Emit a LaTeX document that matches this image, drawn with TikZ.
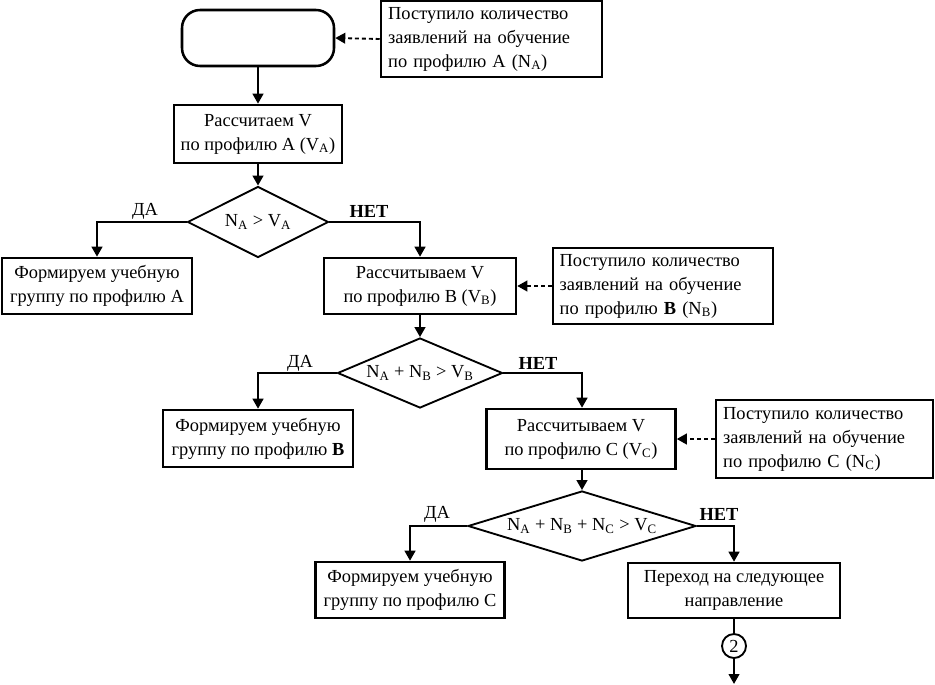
\documentclass[tikz,border=0pt]{standalone}
\usepackage{fontspec}
\setmainfont{Liberation Serif}
\usetikzlibrary{shapes.geometric,arrows.meta}
\begin{document}
\begin{tikzpicture}[x=0.75pt,y=-0.75pt,
  font=\fontsize{13.8}{18}\selectfont,
  box/.style={draw,line width=1.9pt,inner sep=0pt,align=center},
  note/.style={draw,line width=1.9pt,inner xsep=5pt,inner ysep=0pt,align=left},
  dec/.style={draw,diamond,line width=1.4pt,inner sep=0pt},
  lbl/.style={inner sep=0pt},
  arr/.style={line width=1.6pt,-{Triangle[length=7.5pt,width=8pt]}},
  line/.style={line width=1.6pt},
  dot/.style={line width=1.4pt,dash pattern=on 3pt off 2.2pt,-{Triangle[length=7.5pt,width=8pt]}}]
\useasboundingbox (0,0) rectangle (935,685);
% nodes
\node[box,rounded corners=13.5pt,minimum width=114pt,minimum height=42pt] (term) at (258,38) {};
\node[note,minimum width=165.75pt,minimum height=57pt,text width=155pt] (noteA) at (491.5,39) {Поступило количество\\заявлений на обучение\\по профилю A (N\textsubscript{A})};
\node[box,minimum width=126pt,minimum height=43.5pt] (b1) at (258,134) {Рассчитаем V\\по профилю A (V\textsubscript{A})};
\node[dec,aspect=2,minimum width=105.75pt,minimum height=53.25pt] (d1) at (258,222) {N\textsubscript{A} > V\textsubscript{A}};
\node[box,minimum width=142.5pt,minimum height=42pt] (fA) at (97,286) {Формируем учебную\\группу по профилю A};
\node[box,minimum width=144pt,minimum height=42pt] (bB) at (420,286) {Рассчитываем V\\по профилю B (V\textsubscript{B})};
\node[note,minimum width=165pt,minimum height=57pt,text width=155pt] (noteB) at (663,286) {Поступило количество\\заявлений на обучение\\по профилю \textbf{B} (N\textsubscript{B})};
\node[dec,aspect=2.36,minimum width=123.75pt,minimum height=52.5pt] (d2) at (420,373) {N\textsubscript{A} + N\textsubscript{B} > V\textsubscript{B}};
\node[box,minimum width=142.5pt,minimum height=42.75pt] (fB) at (258,438.5) {Формируем учебную\\группу по профилю \textbf{B}};
\node[box,minimum width=141.75pt,minimum height=45pt] (bC) at (581,439) {Рассчитываем V\\по профилю C (V\textsubscript{C})};
\node[note,minimum width=162.75pt,minimum height=58.5pt,text width=152pt] (noteC) at (824.5,439) {Поступило количество\\заявлений на обучение\\по профилю C (N\textsubscript{C})};
\node[dec,aspect=3.26,minimum width=171pt,minimum height=52.5pt] (d3) at (582,526) {N\textsubscript{A} + N\textsubscript{B} + N\textsubscript{C} > V\textsubscript{C}};
\node[box,minimum width=141.75pt,minimum height=42pt] (fC) at (410,590) {Формируем учебную\\группу по профилю C};
\node[box,minimum width=159pt,minimum height=41.25pt] (bN) at (734,590.5) {Переход на следующее\\направление};
\node[draw,circle,line width=1.4pt,minimum size=18pt,inner sep=0pt] (c2) at (734,646) {2};
\coordinate (end) at (734,684);
% labels
\node[lbl] (da1) at (145,211) {ДА};
\node[lbl] (net1) at (369,211) {\textbf{НЕТ}};
\node[lbl] (da2) at (300,363) {ДА};
\node[lbl] (net2) at (538,363) {\textbf{НЕТ}};
\node[lbl] (da3) at (437,514) {ДА};
\node[lbl] (net3) at (719,514) {\textbf{НЕТ}};
% connectors
\draw[arr] (term) -- (b1);
\draw[arr] (b1) -- (d1);
\draw[arr] (d1.west) -| (fA.north);
\draw[arr] (d1.east) -| (bB.north);
\draw[arr] (bB) -- (d2);
\draw[arr] (d2.west) -| (fB.north);
\draw[arr] (d2.east) -| (d3.north |- bC.north);
\draw[arr] (d3.north |- bC.south) -- (d3.north);
\draw[arr] (d3.west) -| (fC.north);
\draw[arr] (d3.east) -| (bN.north);
\draw[line] (bN) -- (c2);
\draw[arr] (c2) -- (end);
\draw[dot] (noteA.west) -- (term.east);
\draw[dot] (noteB.west) -- (bB.east);
\draw[dot] (noteC.west) -- (bC.east);
\end{tikzpicture}
\end{document}
